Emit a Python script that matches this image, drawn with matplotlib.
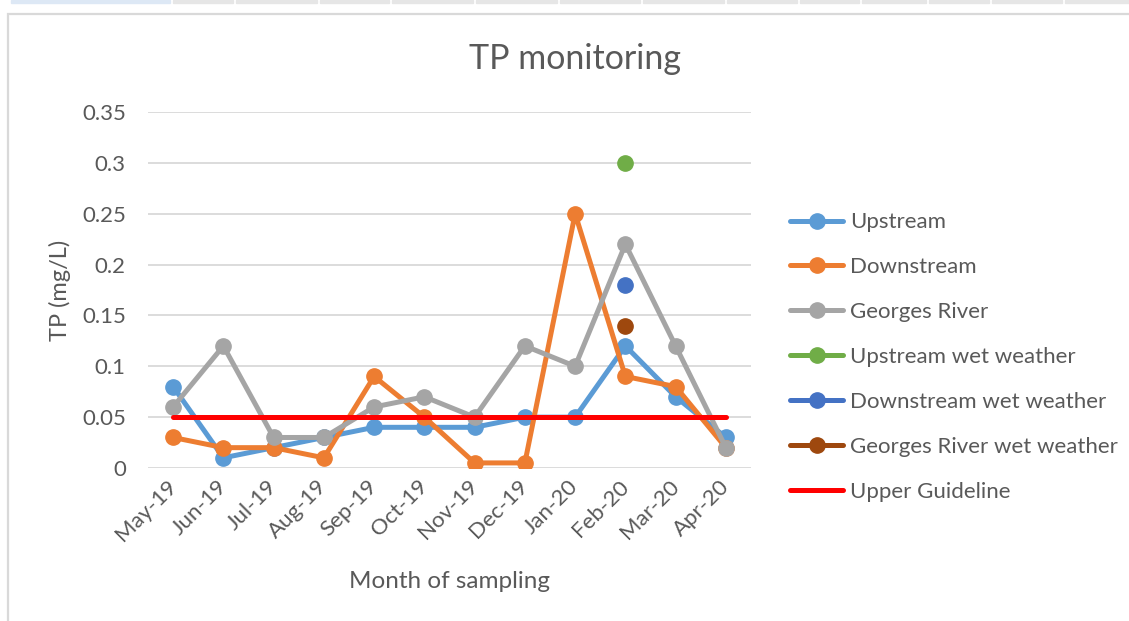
import numpy as np
import matplotlib
matplotlib.use("Agg")
import matplotlib.pyplot as plt
from matplotlib.lines import Line2D
from matplotlib.patches import Rectangle

plt.rcParams['font.family'] = ['Lato', 'DejaVu Sans']

months = ["May-19", "Jun-19", "Jul-19", "Aug-19", "Sep-19", "Oct-19",
          "Nov-19", "Dec-19", "Jan-20", "Feb-20", "Mar-20", "Apr-20"]
upstream = [0.08, 0.01, 0.02, 0.03, 0.04, 0.04, 0.04, 0.05, 0.05, 0.12, 0.07, 0.03]
downstream = [0.03, 0.02, 0.02, 0.01, 0.09, 0.05, 0.005, 0.005, 0.25, 0.09, 0.08, 0.02]
georges = [0.06, 0.12, 0.03, 0.03, 0.06, 0.07, 0.05, 0.12, 0.10, 0.22, 0.12, 0.02]
nan = np.nan
up_wet = [nan, nan, nan, nan, nan, nan, nan, nan, nan, 0.30, nan, nan]
down_wet = [nan, nan, nan, nan, nan, nan, nan, nan, nan, 0.18, nan, nan]
georges_wet = [nan, nan, nan, nan, nan, nan, nan, nan, nan, 0.14, nan, nan]
guideline = [0.05] * 12
yticks = [0, 0.05, 0.1, 0.15, 0.2, 0.25, 0.3, 0.35]
ytick_labels = ["0", "0.05", "0.1", "0.15", "0.2", "0.25", "0.3", "0.35"]

W, H = 1129, 621
fig = plt.figure(figsize=(W / 100, H / 100), dpi=100)
fig.patch.set_facecolor('white')

# spreadsheet decoration
fig.patches.append(Rectangle((8 / W, -0.1), 1.2, (H - 14) / H + 0.1,
                             transform=fig.transFigure, fill=False,
                             edgecolor='#D9D9D9', linewidth=1.6, zorder=0))
strip = [(11, 170, '#DDE8F5'), (173, 233, '#E6E6E6'), (236, 317, '#E6E6E6'),
         (320, 389, '#E6E6E6'), (392, 473, '#E6E6E6'), (476, 557, '#E6E6E6'),
         (560, 640, '#E6E6E6'), (643, 724, '#E6E6E6'), (727, 797, '#E6E6E6'),
         (800, 859, '#E6E6E6'), (862, 926, '#E6E6E6'), (929, 989, '#E6E6E6'),
         (992, 1062, '#E6E6E6'), (1065, 1129, '#E6E6E6')]
for x0, x1, c in strip:
    fig.patches.append(Rectangle((x0 / W, 1 - 3 / H), (x1 - x0) / W, 3 / H,
                                 transform=fig.transFigure, color=c, zorder=0))

left, right, top, bottom = 148, 751, 112, 468
ax = fig.add_axes([left / W, (H - bottom) / H, (right - left) / W, (bottom - top) / H])

x = np.arange(len(months))
txt = '#595959'
lw = 3.6
ms = 11

series = [
    ("Upstream", upstream, '#5B9BD5'),
    ("Downstream", downstream, '#ED7D31'),
    ("Georges River", georges, '#A5A5A5'),
    ("Upstream wet weather", up_wet, '#70AD47'),
    ("Downstream wet weather", down_wet, '#4472C4'),
    ("Georges River wet weather", georges_wet, '#9E480E'),
]
handles = []
for i, (name, vals, col) in enumerate(series):
    ax.plot(x, vals, color=col, lw=lw, marker='o', ms=ms, zorder=3 + i,
            solid_capstyle='round', solid_joinstyle='round')
    handles.append(Line2D([], [], color=col, lw=lw, marker='o', ms=ms,
                          solid_capstyle='round', label=name))
ax.plot(x, guideline, color='#FF0000', lw=lw, zorder=10, solid_capstyle='round')
handles.append(Line2D([], [], color='#FF0000', lw=lw, solid_capstyle='round',
                      label="Upper Guideline"))

ax.set_xlim(-0.5, len(months) - 0.5)
ax.set_ylim(0, 0.35)
ax.set_yticks(yticks)
ax.set_yticklabels(ytick_labels)
ax.set_xticks(x)
ax.set_xticklabels(months, rotation=45, ha='right', rotation_mode='anchor')
ax.tick_params(axis='y', length=0, pad=16, labelsize=16, labelcolor=txt)
ax.tick_params(axis='x', length=0, pad=11, labelsize=16, labelcolor=txt)
for t in ax.get_xticklabels():
    t.set_va('center')
ax.grid(axis='y', color='#D9D9D9', lw=1.3)
ax.set_axisbelow(True)
for s in ax.spines.values():
    s.set_visible(False)

fig.text(575 / W, 1 - 59 / H, "TP monitoring", ha='center', va='center',
         fontsize=24.5, color=txt)
fig.text(60 / W, 1 - 290 / H, "TP (mg/L)", ha='center', va='center',
         rotation=90, fontsize=17, color=txt)
fig.text(449.5 / W, 1 - 582 / H, "Month of sampling", ha='center', va='center',
         fontsize=17.5, color=txt)

fig.legend(handles=handles, loc='center left',
           bbox_to_anchor=(790 / W, 1 - 357 / H), frameon=False,
           fontsize=16, labelcolor=txt, borderpad=0, handlelength=2.4,
           handletextpad=0.3, labelspacing=1.12, borderaxespad=0)

fig.savefig("out.png", dpi=100)
